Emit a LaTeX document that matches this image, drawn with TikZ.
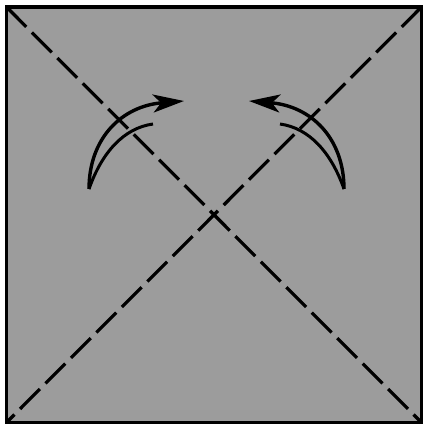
\documentclass[tikz,border=0pt]{standalone}
\usepackage{tikz}
\usetikzlibrary{arrows.meta}

\definecolor{paper}{RGB}{156,156,156}

\begin{document}
\begin{tikzpicture}[x=1pt, y=-1pt, >={Stealth[length=31pt, width=18pt, inset=8pt]}]
    \tikzstyle{edge}=[line width=3.6pt]
    \tikzstyle{valley}=[line width=3.2pt, dash pattern=on 28pt off 8pt]
    \tikzstyle{fold}=[line width=3.4pt]
    \tikzstyle{foldback}=[line width=3pt]

    \useasboundingbox (0,0) rectangle (427,428);

    % corners of the sheet
    \coordinate (tl) at (6.5,7);
    \coordinate (tr) at (421.5,7);
    \coordinate (bl) at (6.5,422.5);
    \coordinate (br) at (421.5,422.5);

    \fill[paper] (tl) rectangle (br);
    \draw[valley] (tl) -- (br);
    \draw[valley] (tr) -- (bl);
    \draw[edge] (tl) rectangle (br);

    % left arrow
    \coordinate (lbase) at (89,189);
    \coordinate (ltip) at (184,101);
    \coordinate (lin) at (153,124);
    \draw[fold, ->] (lbase) .. controls (89,138) and (122,106) .. (ltip);
    \draw[foldback] (lbase) .. controls (102,152) and (124,128) .. (lin);

    % right arrow
    \coordinate (rbase) at (344,189);
    \coordinate (rtip) at (249,101);
    \coordinate (rin) at (280,124);
    \draw[fold, ->] (rbase) .. controls (344,138) and (311,106) .. (rtip);
    \draw[foldback] (rbase) .. controls (331,152) and (309,128) .. (rin);
\end{tikzpicture}
\end{document}
